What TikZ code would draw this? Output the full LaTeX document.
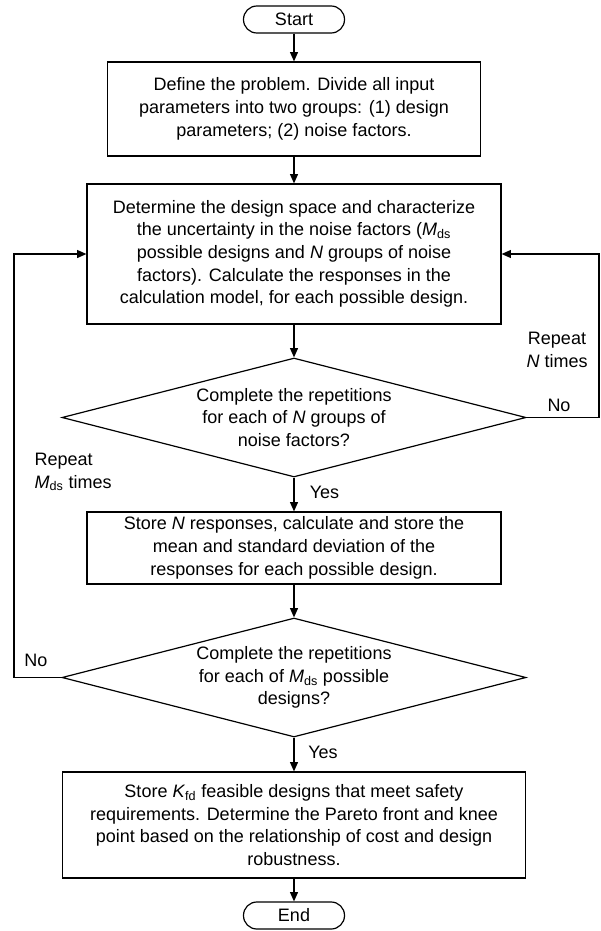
\documentclass[tikz,border=0pt]{standalone}
\usepackage{fontspec}
\setmainfont{Liberation Sans}
\usepackage{tikz}
\usetikzlibrary{arrows.meta}
\usetikzlibrary{shapes.geometric}
\usetikzlibrary{positioning}

\newcommand{\Mds}{\textit{M}\textsubscript{ds}}
\newcommand{\Kfd}{\textit{K}\textsubscript{fd}}

\begin{document}
\begin{tikzpicture}[x=0.75pt, y=-0.75pt, line width=0.9pt,
    >={Triangle[length=7pt,width=6pt]},
    every node/.style={font={\fontsize{13.5}{17}\selectfont}},
    termbox/.style={draw=black, rounded corners=10pt, minimum width=75.75pt, minimum height=20.25pt, inner sep=0pt},
    procbox/.style={draw=black, align=center, inner sep=0pt},
    decision/.style={draw=black, diamond, aspect=3.9, align=center, inner sep=0pt, minimum width=348pt, minimum height=89.25pt},
    lbl/.style={inner sep=0pt}]
    \useasboundingbox (0,0) rectangle (600,931);

    \node[termbox] (start) at (294,19.5) {Start};
    \node[procbox, minimum width=279.75pt, minimum height=70.5pt] (define) at (294,109)
      {Define the problem. Divide all input\\parameters into two groups: (1) design\\parameters; (2) noise factors.};
    \node[procbox, minimum width=310.5pt, minimum height=105pt] (space) at (294,254)
      {Determine the design space and characterize\\the uncertainty in the noise factors (\Mds\\possible designs and \textit{N} groups of noise\\factors). Calculate the responses in the\\calculation model, for each possible design.};
    \node[decision] (checkN) at (294,417.5)
      {Complete the repetitions\\for each of \textit{N} groups of\\noise factors?};
    \node[procbox, minimum width=310.5pt, minimum height=54pt] (store) at (294,548)
      {Store \textit{N} responses, calculate and store the\\mean and standard deviation of the\\responses for each possible design.};
    \node[decision] (checkM) at (294,677.5)
      {Complete the repetitions\\for each of \Mds{} possible\\designs?};
    \node[procbox, minimum width=347.25pt, minimum height=79.5pt] (pareto) at (294,825)
      {Store \Kfd{} feasible designs that meet safety\\requirements. Determine the Pareto front and knee\\point based on the relationship of cost and design\\robustness.};
    \node[termbox] (finish) at (294,915.5) {End};

    \path [->] (start) edge (define);
    \path [->] (define) edge (space);
    \path [->] (space) edge (checkN);
    \path [->] (checkN) edge (store);
    \path [->] (store) edge (checkM);
    \path [->] (checkM) edge (pareto);
    \path [->] (pareto) edge (finish);

    % loop over the N groups of noise factors
    \coordinate (rbot) at (599,417.5);
    \coordinate (rtop) at (599,254);
    \draw [->] (checkN.east) -- (rbot) -- (rtop) -- (space.east);
    % loop over the possible designs
    \coordinate (lbot) at (14,677.5);
    \coordinate (ltop) at (14,254);
    \draw [->] (checkM.west) -- (lbot) -- (ltop) -- (space.west);

    \node[lbl, align=center] (repN) at (557,350) {Repeat\\\textit{N} times};
    \node[lbl] (noN) at (559,405) {No};
    \node[lbl] (yesN) at (324.5,492) {Yes};
    \node[lbl, align=left, anchor=west] (repM) at (34,472) {Repeat\\\Mds{} times};
    \node[lbl] (noM) at (36,660) {No};
    \node[lbl] (yesM) at (323,752) {Yes};
  \end{tikzpicture}
\end{document}
